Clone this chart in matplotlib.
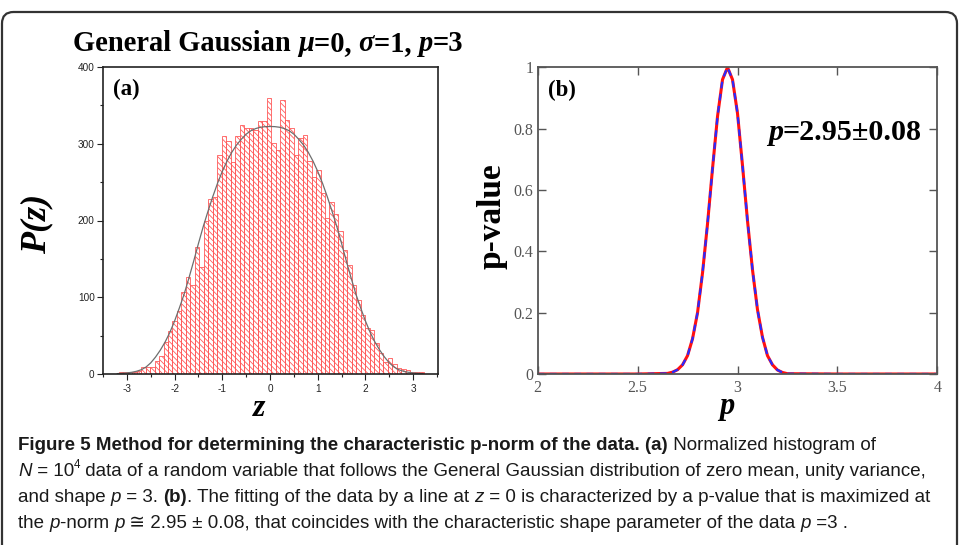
import matplotlib
matplotlib.use("Agg")
import matplotlib.pyplot as plt
from matplotlib import font_manager
from matplotlib.patches import FancyBboxPatch
from matplotlib.ticker import MultipleLocator
import numpy as np

W, H = 960, 545

# ---------------- data ---------------- #

# (a) histogram of N=10^4 samples, 68 equal bins between hist_lo and hist_hi
hist_lo, hist_hi = -3.172, 3.22
hist_counts = [
    2, 2, 3, 3, 4, 9, 9, 9, 17, 23,
    42, 56, 69, 82, 107, 126, 116, 166, 140, 199,
    228, 231, 285, 310, 303, 276, 310, 325, 321, 320,
    318, 329, 330, 359, 301, 292, 357, 331, 320, 285,
    307, 311, 278, 257, 266, 236, 203, 224, 208, 186,
    161, 142, 116, 96, 77, 60, 57, 41, 28, 16,
    21, 13, 8, 7, 5, 3, 2, 2,
]

# (a) fitted General Gaussian curve
fit_z = [-3.2, -3.1, -3.0, -2.9, -2.8, -2.7, -2.6, -2.5, -2.4, -2.3, -2.2,
         -2.1, -2.0, -1.9, -1.8, -1.7, -1.6, -1.5, -1.4, -1.3, -1.2, -1.1,
         -1.0, -0.9, -0.8, -0.7, -0.6, -0.5, -0.4, -0.3, -0.2, -0.1, 0.0,
         0.1, 0.2, 0.3, 0.4, 0.5, 0.6, 0.7, 0.8, 0.9, 1.0, 1.1, 1.2, 1.3,
         1.4, 1.5, 1.6, 1.7, 1.8, 1.9, 2.0, 2.1, 2.2, 2.3, 2.4, 2.5, 2.6,
         2.7, 2.8, 2.9, 3.0, 3.1, 3.2]
fit_vals = [0.5, 0.9, 1.4, 2.2, 3.5, 5.5, 9, 14.5, 22, 31, 41.5,
            54, 69, 86, 104, 125, 147, 170, 192, 212, 231, 248.5,
            264, 277.5, 289, 298.5, 306, 312.5, 317, 319.8, 321.5, 322.3, 322.5,
            322.3, 321.5, 319.8, 317, 312.5, 306, 298.5, 289, 277.5, 264, 248.5, 231, 212,
            192, 170, 147, 125, 104, 86, 69, 54, 41.5, 31, 22, 14.5, 9,
            5.5, 3.5, 2.2, 1.4, 0.9, 0.5]

# (b) p-value of the line fit versus the p-norm
p_norm = [2.0, 2.5, 2.65, 2.675, 2.7, 2.725, 2.75, 2.775, 2.8, 2.825, 2.85,
          2.875, 2.9, 2.925, 2.95, 2.975, 3.0, 3.025, 3.05, 3.075, 3.1,
          3.125, 3.15, 3.175, 3.2, 3.225, 3.25, 3.5, 4.0]
p_value = [0, 0, 0.002, 0.006, 0.014, 0.03, 0.06, 0.115, 0.2, 0.33, 0.49,
           0.67, 0.84, 0.96, 1.0, 0.96, 0.85, 0.68, 0.5, 0.34, 0.21,
           0.12, 0.06, 0.03, 0.013, 0.005, 0.001, 0, 0]

# ---------------- helpers ---------------- #

SERIF = "Liberation Serif"
_names = {f.name for f in font_manager.fontManager.ttflist}
CAP = "Liberation Sans Narrow" if "Liberation Sans Narrow" in _names else "Liberation Sans"

plt.rcParams["axes.unicode_minus"] = False
plt.rcParams["hatch.linewidth"] = 0.6

fig = plt.figure(figsize=(W / 100, H / 100), dpi=100)
rend = fig.canvas.get_renderer()


def run_width(s, **kw):
    t = fig.text(0, 0, s + "|", **kw)
    w1 = t.get_window_extent(rend).width
    t.set_text("|")
    w2 = t.get_window_extent(rend).width
    t.remove()
    return w1 - w2


def runs_width(runs, size, family):
    w = 0
    for text, weight, style, *sup in runs:
        fs = size * 0.62 if sup else size
        w += run_width(text, fontsize=fs, family=family, weight=weight, style=style)
    return w


def draw_runs(x, y, runs, size, family, color="black"):
    # x, y in pixels from the top-left corner, y is the baseline
    for text, weight, style, *sup in runs:
        fs = size * 0.62 if sup else size
        yy = y - size * 0.42 * 100 / 72 if sup else y
        kw = dict(fontsize=fs, family=family, weight=weight, style=style, color=color)
        fig.text(x / W, 1 - yy / H, text, ha="left", va="baseline", **kw)
        x += run_width(text, **kw)
    return x


def fit_size(runs, family, target_px, base=12.0):
    return base * target_px / runs_width(runs, base, family)


def ax_rect(x0, y0, x1, y1):
    return [x0 / W, 1 - y1 / H, (x1 - x0) / W, (y1 - y0) / H]


# ---------------- panel (a) ---------------- #

ax1 = fig.add_axes(ax_rect(103, 67, 438, 374))
edges = np.linspace(hist_lo, hist_hi, len(hist_counts) + 1)
ax1.bar(edges[:-1], hist_counts, width=np.diff(edges), align="edge",
        fill=False, edgecolor="#ff5a5a", linewidth=0.6, hatch="\\\\\\\\\\\\")
ax1.plot(fit_z, fit_vals, color="#6e6e6e", lw=0.9)
ax1.set_xlim(-3.5, 3.52)
ax1.set_ylim(0, 400)
ax1.xaxis.set_major_locator(MultipleLocator(1))
ax1.xaxis.set_minor_locator(MultipleLocator(0.5))
ax1.yaxis.set_major_locator(MultipleLocator(100))
ax1.yaxis.set_minor_locator(MultipleLocator(50))
ax1.tick_params(which="both", direction="out", labelsize=7.2, width=0.8,
                colors="#222222", labelfontfamily="Liberation Sans")
ax1.tick_params(which="major", length=4, pad=2)
ax1.tick_params(which="minor", length=2.5)
ax1.tick_params(axis="x", which="major", pad=3)
for s in ax1.spines.values():
    s.set_linewidth(1.2)
    s.set_color("#222222")

# ---------------- panel (b) ---------------- #

ax2 = fig.add_axes(ax_rect(537.7, 67.3, 937.3, 374))
ax2.plot(p_norm, p_value, color="#ff1010", lw=2.2)
ax2.plot(p_norm, p_value, color="#2a2aff", lw=1.6, ls=(0, (3, 2.5)))
ax2.set_xlim(2, 4)
ax2.set_ylim(0, 1)
ax2.set_xticks([2, 2.5, 3, 3.5, 4], ["2", "2.5", "3", "3.5", "4"])
ax2.set_yticks([0, 0.2, 0.4, 0.6, 0.8, 1], ["0", "0.2", "0.4", "0.6", "0.8", "1"])
ax2.tick_params(direction="in", top=True, right=True, length=6, width=1,
                color="#555555", labelcolor="#555555", labelsize=11.5,
                labelfontfamily=SERIF)
ax2.tick_params(axis="y", pad=3)
ax2.tick_params(axis="x", pad=4)
for s in ax2.spines.values():
    s.set_linewidth(1.3)
    s.set_color("#555555")

# ---------------- labels ---------------- #

title_runs = [("General Gaussian ", "bold", "normal"), ("\u03bc", "bold", "italic"),
              ("=0, ", "bold", "normal"), ("\u03c3", "bold", "italic"),
              ("=1, ", "bold", "normal"), ("p", "bold", "italic"),
              ("=3", "bold", "normal")]
draw_runs(73, 51, title_runs, fit_size(title_runs, SERIF, 389), SERIF)

fig.text(113 / W, 1 - 95 / H, "(a)", fontsize=16.5, family=SERIF, weight="bold",
         ha="left", va="baseline")
fig.text(548 / W, 1 - 96.5 / H, "(b)", fontsize=16.5, family=SERIF, weight="bold",
         ha="left", va="baseline")

fig.text(37 / W, 1 - 224 / H, "P(z)", fontsize=26, family=SERIF, weight="bold",
         style="italic", rotation=90, ha="center", va="center")
fig.text(259 / W, 1 - 416 / H, "z", fontsize=23, family=SERIF, weight="bold",
         style="italic", ha="center", va="baseline")
fig.text(492 / W, 1 - 216 / H, "p-value", fontsize=24, family=SERIF, weight="bold",
         rotation=90, ha="center", va="center")
fig.text(727 / W, 1 - 414 / H, "p", fontsize=22, family=SERIF, weight="bold",
         style="italic", ha="center", va="baseline")

ann_runs = [("p", "bold", "italic"), ("=2.95\u00b10.08", "bold", "normal")]
draw_runs(768, 140, ann_runs, fit_size(ann_runs, SERIF, 154), SERIF)

# ---------------- caption ---------------- #

n, b, i = ("normal", "normal"), ("bold", "normal"), ("normal", "italic")
cap_lines = [
    [("Figure 5 Method for determining the characteristic p-norm of the data. (a)", *b),
     (" Normalized histogram of", *n)],
    [("N", *i), (" = 10", *n), ("4", *n, True),
     (" data of a random variable that follows the General Gaussian distribution of zero mean, unity variance,", *n)],
    [("and shape ", *n), ("p", *i), (" = 3. ", *n), ("(b)", *b),
     (". The fitting of the data by a line at ", *n), ("z", *i),
     (" = 0 is characterized by a p-value that is maximized at", *n)],
    [("the ", *n), ("p", *i), ("-norm ", *n), ("p", *i),
     (" \u2245 2.95 \u00b1 0.08, that coincides with the characteristic shape parameter of the data ", *n),
     ("p", *i), (" =3 .", *n)],
]
cap_family = [CAP, "DejaVu Sans"]
cap_size = fit_size(cap_lines[1], cap_family, 912)
for k, line in enumerate(cap_lines):
    draw_runs(18, 450 + 26 * k, line, cap_size, cap_family, color="#1a1a1a")

# rounded frame around the whole figure
frame = FancyBboxPatch((2 / W, -0.2), (955 / W), 1 - 12 / H + 0.2,
                       boxstyle="round,pad=0,rounding_size=0.012",
                       mutation_aspect=W / H, transform=fig.transFigure,
                       fill=False, edgecolor="#333333", linewidth=1.6, clip_on=False)
fig.add_artist(frame)

fig.savefig("out.png", dpi=100)
